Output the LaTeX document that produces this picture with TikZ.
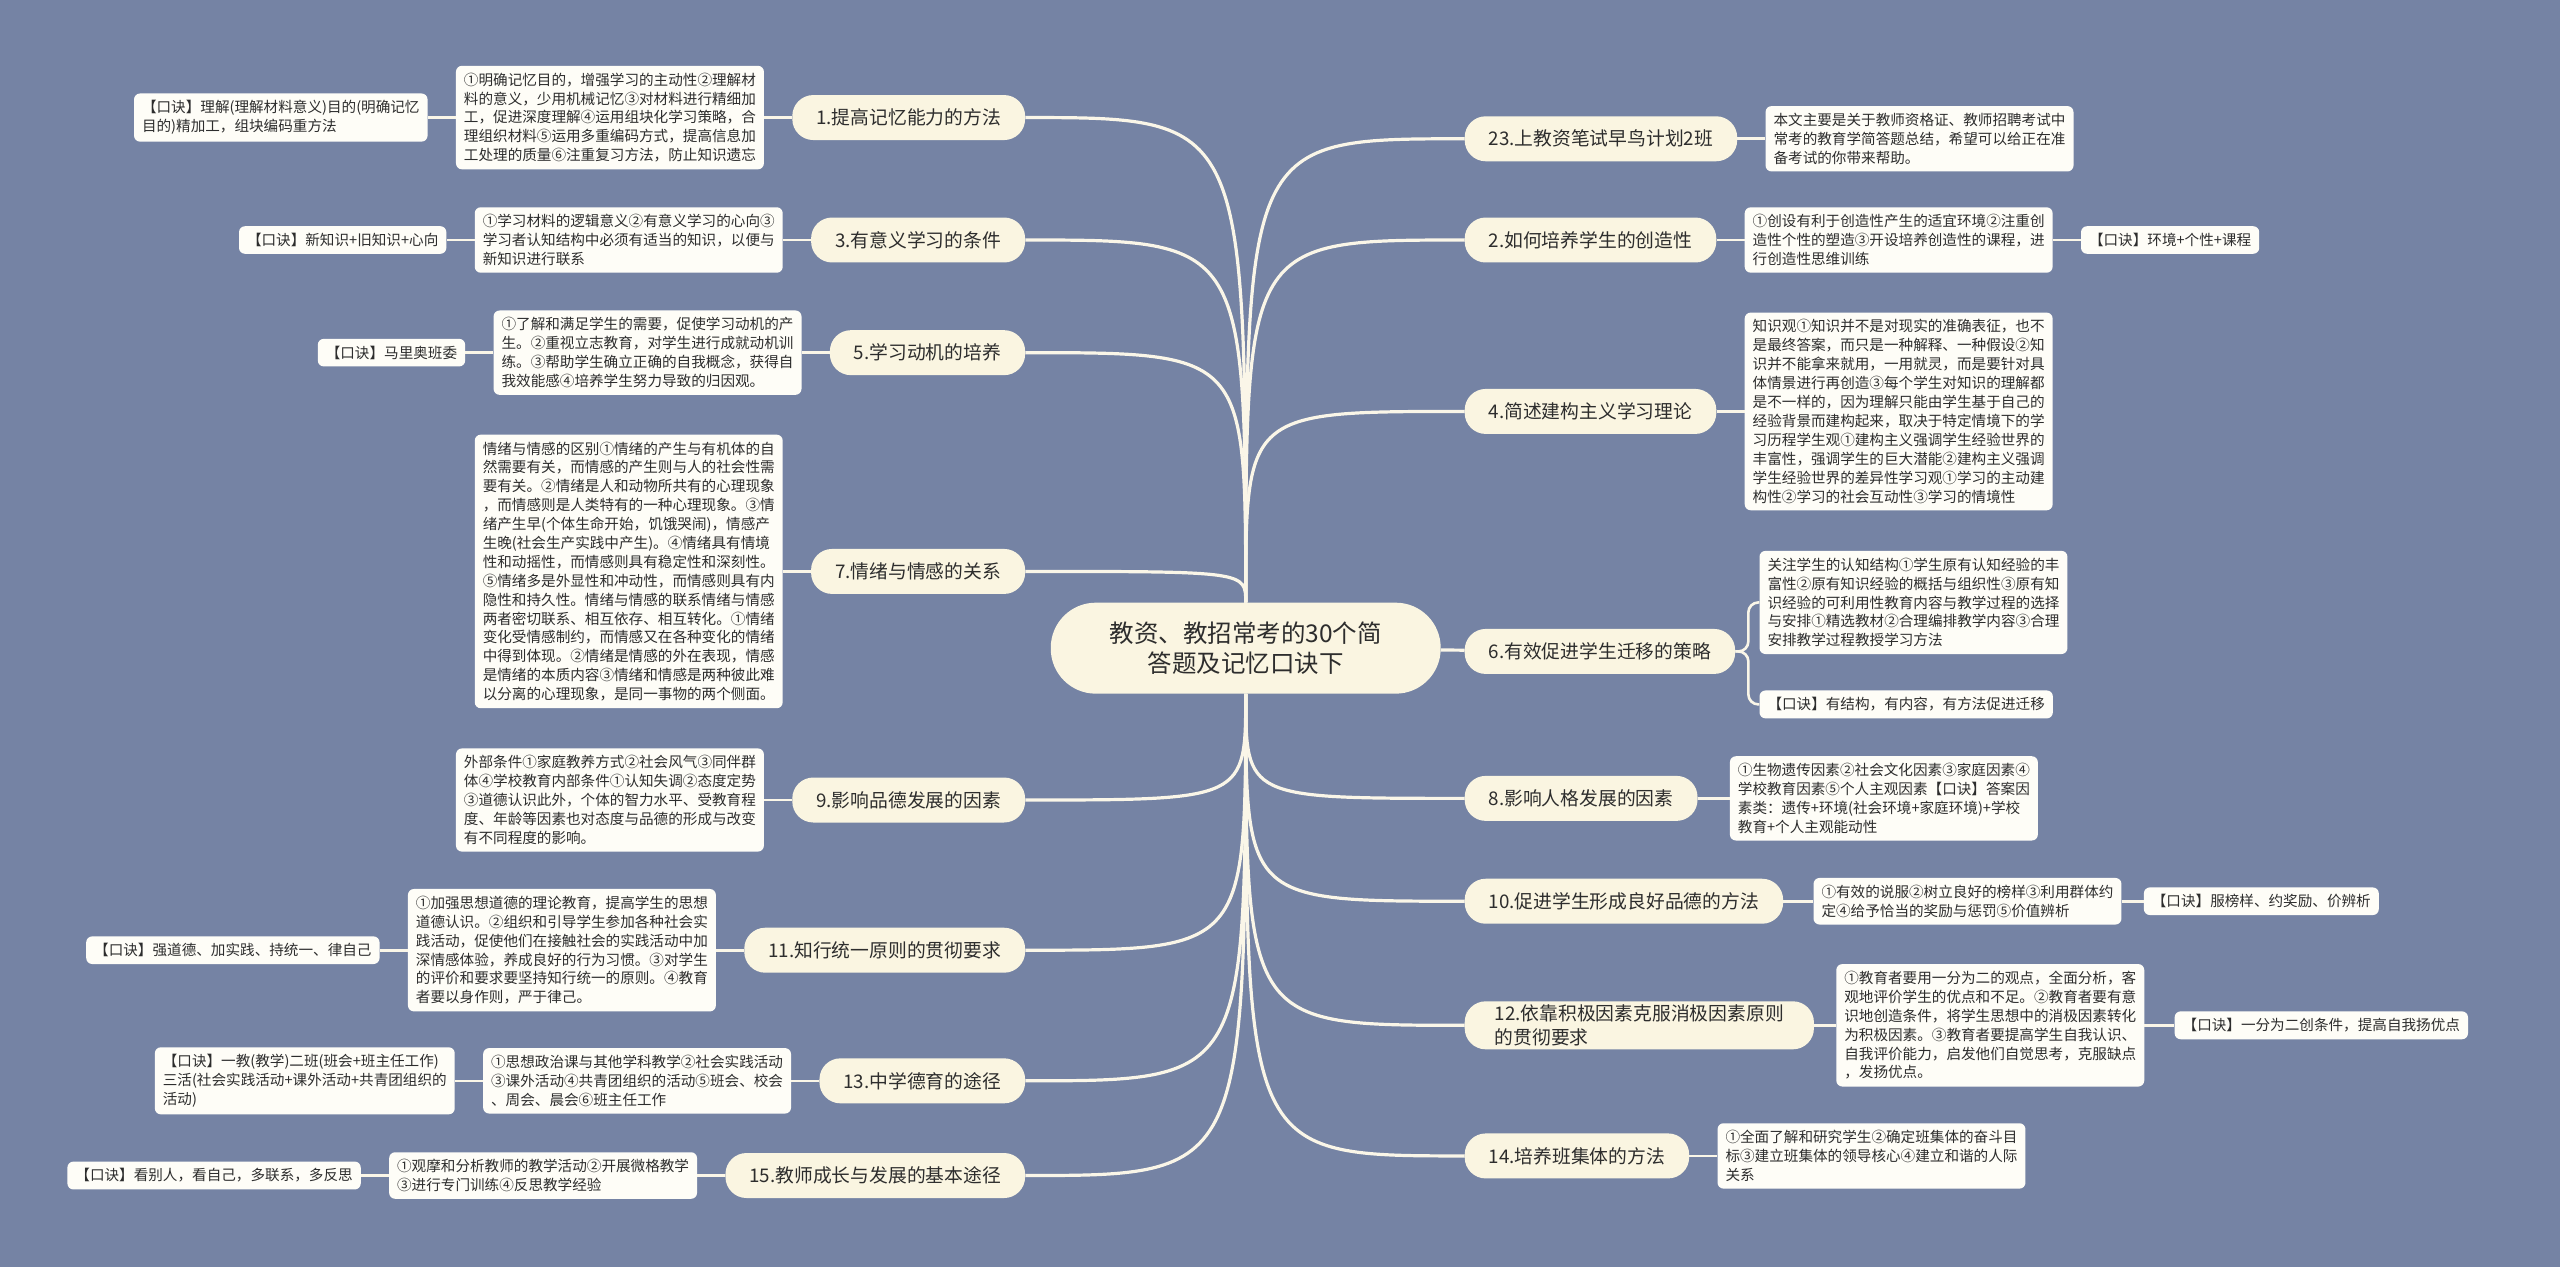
\documentclass[tikz,border=0pt]{standalone}
\usepackage{fontspec}
\setmainfont{Noto Sans CJK SC}
\usepackage{xcolor}
\usetikzlibrary{positioning}
\definecolor{mapbg}{RGB}{117, 131, 164}
\definecolor{topicfill}{RGB}{250, 245, 225}
\definecolor{notefill}{RGB}{254, 253, 247}
\definecolor{linkcol}{RGB}{250, 246, 232}
\definecolor{inkcol}{RGB}{45, 45, 45}

\tikzset{
  root/.style={fill=topicfill, rounded corners=45pt, minimum width=390pt, minimum height=91pt,
    align=center, text=inkcol, font=\fontsize{24.5}{30}\selectfont},
  topic/.style={fill=topicfill, rounded corners=21pt, minimum height=45pt, inner xsep=24pt,
    align=left, text=inkcol, font=\fontsize{18.8}{24}\selectfont},
  note/.style={fill=notefill, rounded corners=6pt, inner xsep=8pt, inner ysep=7pt,
    align=left, text=inkcol, font=\fontsize{14.6}{18.9}\selectfont},
  link/.style={draw=linkcol, line width=2.6pt},
  trunk/.style={draw=linkcol, line width=3.2pt}
}

\begin{document}
\begin{tikzpicture}[x=1.633pt, y=-1.633pt]
        % Backdrop
        \fill[mapbg] (0,0) rectangle (1568,776);
        \useasboundingbox (0,0) rectangle (1568,776);

        % Central topic
        \node[root] (root) at (763,397) {教资、教招常考的30个简\\答题及记忆口诀下};

        % Left topics
        \node[topic, anchor=east] (t1) at (628,72) {1.提高记忆能力的方法};
        \node[topic, anchor=east] (t3) at (628,147) {3.有意义学习的条件};
        \node[topic, anchor=east] (t5) at (628,216) {5.学习动机的培养};
        \node[topic, anchor=east] (t7) at (628,350) {7.情绪与情感的关系};
        \node[topic, anchor=east] (t9) at (628,490) {9.影响品德发展的因素};
        \node[topic, anchor=east] (t11) at (628,582) {11.知行统一原则的贯彻要求};
        \node[topic, anchor=east] (t13) at (628,662) {13.中学德育的途径};
        \node[topic, anchor=east] (t15) at (628,720) {15.教师成长与发展的基本途径};

        % Right topics
        \node[topic, anchor=west] (t23) at (897,85) {23.上教资笔试早鸟计划2班};
        \node[topic, anchor=west] (t2) at (897,147) {2.如何培养学生的创造性};
        \node[topic, anchor=west] (t4) at (897,252) {4.简述建构主义学习理论};
        \node[topic, anchor=west] (t6) at (897,399) {6.有效促进学生迁移的策略};
        \node[topic, anchor=west] (t8) at (897,489) {8.影响人格发展的因素};
        \node[topic, anchor=west] (t10) at (897,552) {10.促进学生形成良好品德的方法};
        \node[topic, anchor=west, inner xsep=30pt] (t12) at (897,628) {12.依靠积极因素克服消极因素原则\\的贯彻要求};
        \node[topic, anchor=west] (t14) at (897,708) {14.培养班集体的方法};

        % Left notes and mnemonics
        \node[note, left=28pt of t1] (n1) {①明确记忆目的，增强学习的主动性②理解材\\料的意义，少用机械记忆③对材料进行精细加\\工，促进深度理解④运用组块化学习策略，合\\理组织材料⑤运用多重编码方式，提高信息加\\工处理的质量⑥注重复习方法，防止知识遗忘};
        \node[note, left=28pt of n1] (k1) {【口诀】理解(理解材料意义)目的(明确记忆\\目的)精加工，组块编码重方法};
        \node[note, left=28pt of t3] (n3) {①学习材料的逻辑意义②有意义学习的心向③\\学习者认知结构中必须有适当的知识，以便与\\新知识进行联系};
        \node[note, left=28pt of n3] (k3) {【口诀】新知识+旧知识+心向};
        \node[note, left=28pt of t5] (n5) {①了解和满足学生的需要，促使学习动机的产\\生。②重视立志教育，对学生进行成就动机训\\练。③帮助学生确立正确的自我概念，获得自\\我效能感④培养学生努力导致的归因观。};
        \node[note, left=28pt of n5] (k5) {【口诀】马里奥班委};
        \node[note, left=28pt of t7] (n7) {情绪与情感的区别①情绪的产生与有机体的自\\然需要有关，而情感的产生则与人的社会性需\\要有关。②情绪是人和动物所共有的心理现象\\，而情感则是人类特有的一种心理现象。③情\\绪产生早(个体生命开始，饥饿哭闹)，情感产\\生晚(社会生产实践中产生)。④情绪具有情境\\性和动摇性，而情感则具有稳定性和深刻性。\\⑤情绪多是外显性和冲动性，而情感则具有内\\隐性和持久性。情绪与情感的联系情绪与情感\\两者密切联系、相互依存、相互转化。①情绪\\变化受情感制约，而情感又在各种变化的情绪\\中得到体现。②情绪是情感的外在表现，情感\\是情绪的本质内容③情绪和情感是两种彼此难\\以分离的心理现象，是同一事物的两个侧面。};
        \node[note, left=28pt of t9] (n9) {外部条件①家庭教养方式②社会风气③同伴群\\体④学校教育内部条件①认知失调②态度定势\\③道德认识此外，个体的智力水平、受教育程\\度、年龄等因素也对态度与品德的形成与改变\\有不同程度的影响。};
        \node[note, left=28pt of t11] (n11) {①加强思想道德的理论教育，提高学生的思想\\道德认识。②组织和引导学生参加各种社会实\\践活动，促使他们在接触社会的实践活动中加\\深情感体验，养成良好的行为习惯。③对学生\\的评价和要求要坚持知行统一的原则。④教育\\者要以身作则，严于律己。};
        \node[note, left=28pt of n11] (k11) {【口诀】强道德、加实践、持统一、律自己};
        \node[note, left=28pt of t13] (n13) {①思想政治课与其他学科教学②社会实践活动\\③课外活动④共青团组织的活动⑤班会、校会\\、周会、晨会⑥班主任工作};
        \node[note, left=28pt of n13] (k13) {【口诀】一教(教学)二班(班会+班主任工作)\\三活(社会实践活动+课外活动+共青团组织的\\活动)};
        \node[note, left=28pt of t15] (n15) {①观摩和分析教师的教学活动②开展微格教学\\③进行专门训练④反思教学经验};
        \node[note, left=28pt of n15] (k15) {【口诀】看别人，看自己，多联系，多反思};

        % Right notes and mnemonics
        \node[note, right=28pt of t23] (n23) {本文主要是关于教师资格证、教师招聘考试中\\常考的教育学简答题总结，希望可以给正在准\\备考试的你带来帮助。};
        \node[note, right=28pt of t2] (n2) {①创设有利于创造性产生的适宜环境②注重创\\造性个性的塑造③开设培养创造性的课程，进\\行创造性思维训练};
        \node[note, right=28pt of n2] (k2) {【口诀】环境+个性+课程};
        \node[note, right=28pt of t4] (n4) {知识观①知识并不是对现实的准确表征，也不\\是最终答案，而只是一种解释、一种假设②知\\识并不能拿来就用，一用就灵，而是要针对具\\体情景进行再创造③每个学生对知识的理解都\\是不一样的，因为理解只能由学生基于自己的\\经验背景而建构起来，取决于特定情境下的学\\习历程学生观①建构主义强调学生经验世界的\\丰富性，强调学生的巨大潜能②建构主义强调\\学生经验世界的差异性学习观①学习的主动建\\构性②学习的社会互动性③学习的情境性};
        \node[note, right=24pt of t6, yshift=49pt] (n6) {关注学生的认知结构①学生原有认知经验的丰\\富性②原有知识经验的概括与组织性③原有知\\识经验的可利用性教育内容与教学过程的选择\\与安排①精选教材②合理编排教学内容③合理\\安排教学过程教授学习方法};
        \node[note, right=24pt of t6, yshift=-53pt] (k6) {【口诀】有结构，有内容，有方法促进迁移};
        \node[note, right=32pt of t8] (n8) {①生物遗传因素②社会文化因素③家庭因素④\\学校教育因素⑤个人主观因素【口诀】答案因\\素类：遗传+环境(社会环境+家庭环境)+学校\\教育+个人主观能动性};
        \node[note, right=30pt of t10] (n10) {①有效的说服②树立良好的榜样③利用群体约\\定④给予恰当的奖励与惩罚⑤价值辨析};
        \node[note, right=22pt of n10] (k10) {【口诀】服榜样、约奖励、价辨析};
        \node[note, right=22pt of t12] (n12) {①教育者要用一分为二的观点，全面分析，客\\观地评价学生的优点和不足。②教育者要有意\\识地创造条件，将学生思想中的消极因素转化\\为积极因素。③教育者要提高学生自我认识、\\自我评价能力，启发他们自觉思考，克服缺点\\，发扬优点。};
        \node[note, right=30pt of n12] (k12) {【口诀】一分为二创条件，提高自我扬优点};
        \node[note, right=28pt of t14] (n14) {①全面了解和研究学生②确定班集体的奋斗目\\标③建立班集体的领导核心④建立和谐的人际\\关系};

        % Connectors from the centre
        \foreach \tp in {t1,t3,t5,t7,t9,t11,t13,t15}
          \draw[trunk] (root) .. controls (root.center |- \tp.east) .. (\tp.east);
        \foreach \tp in {t23,t2,t4,t8,t10,t12,t14}
          \draw[trunk] (root) .. controls (root.center |- \tp.west) .. (\tp.west);
        \draw[trunk] (root) -- (t6);

        % Connectors to notes
        \foreach \a/\b in {t1/n1, n1/k1, t3/n3, n3/k3, t5/n5, n5/k5, t7/n7, t9/n9,
            t11/n11, n11/k11, t13/n13, n13/k13, t15/n15, n15/k15,
            t23/n23, t2/n2, n2/k2, t4/n4, t8/n8, t10/n10, n10/k10,
            t12/n12, n12/k12, t14/n14}
          \draw[link] (\a) -- (\b);
        \draw[link, rounded corners=10pt] (t6.east) -- ++(8,0) |- (n6.west);
        \draw[link, rounded corners=10pt] (t6.east) -- ++(8,0) |- (k6.west);
      \end{tikzpicture}
\end{document}
